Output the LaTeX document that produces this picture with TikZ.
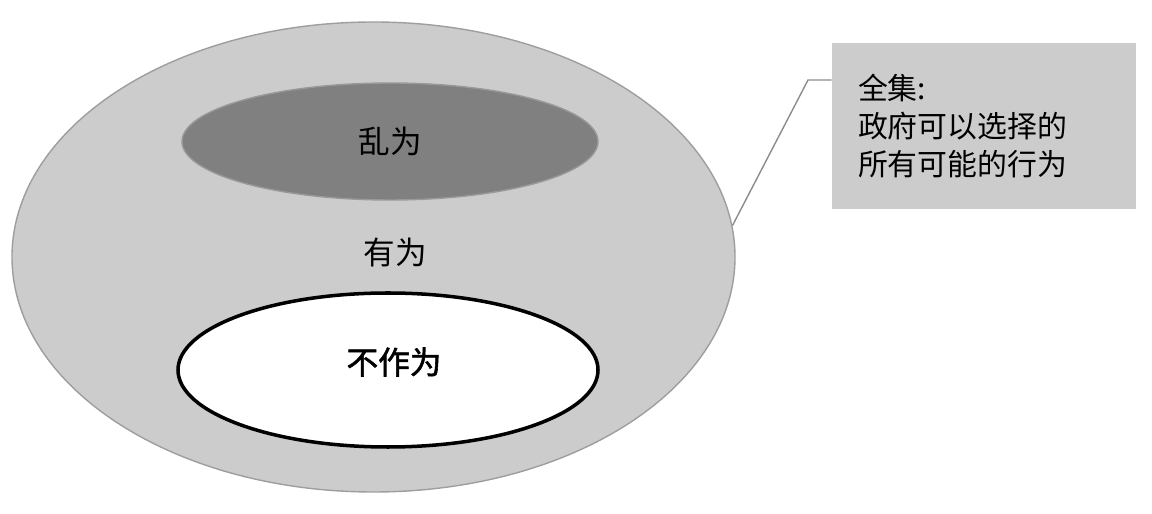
\documentclass[tikz,border=0pt]{standalone}
\usepackage{fontspec}
\newfontfamily\cjk{Noto Sans CJK SC}
\newfontfamily\cjkb[FakeBold=1.8]{Noto Sans CJK SC}
\usetikzlibrary{shapes.geometric}

\begin{document}
\begin{tikzpicture}[
    set/.style={ellipse, inner sep=0pt},
    lbl/.style={font=\cjk\fontsize{18}{21}\selectfont}
  ]
   \useasboundingbox (0,0) rectangle (23.04,10.28);

   % universe of actions
   \node [set, draw=black!38, fill=black!20, line width=0.8pt,
          minimum width=14.46cm, minimum height=9.4cm]
        (vAll) at (7.47,5.14) {};
   \node [set, draw=black!40, fill=black!50, line width=0.8pt,
          minimum width=8.32cm, minimum height=2.34cm]
        (vChaos) at (7.8,7.45) {};
   \node [set, draw=black, fill=white, line width=2pt,
          minimum width=8.4cm, minimum height=3.08cm]
        (vNone) at (7.76,2.88) {};

   \node [lbl] (tChaos) at (vChaos) {乱为};
   \node [lbl] (tAct) at (7.9,5.24) {有为};
   \node [lbl, font=\cjkb\fontsize{18}{21}\selectfont] (tNone) at (7.88,3.04) {不作为};

   % callout
   \node [lbl, font=\cjk\fontsize{17}{21.5}\selectfont, fill=black!20,
          minimum width=6.08cm, minimum height=3.32cm,
          text width=5.04cm, align=left, inner sep=0pt]
        (vNote) at (19.68,7.76) {全集:\\政府可以选择的\\所有可能的行为};
   \coordinate (cBend) at (16.16,8.68);
   \draw [black!45, line width=0.8pt] (vAll.5.6) -- (cBend) -- (vNote.west |- cBend);

\end{tikzpicture}
\end{document}
